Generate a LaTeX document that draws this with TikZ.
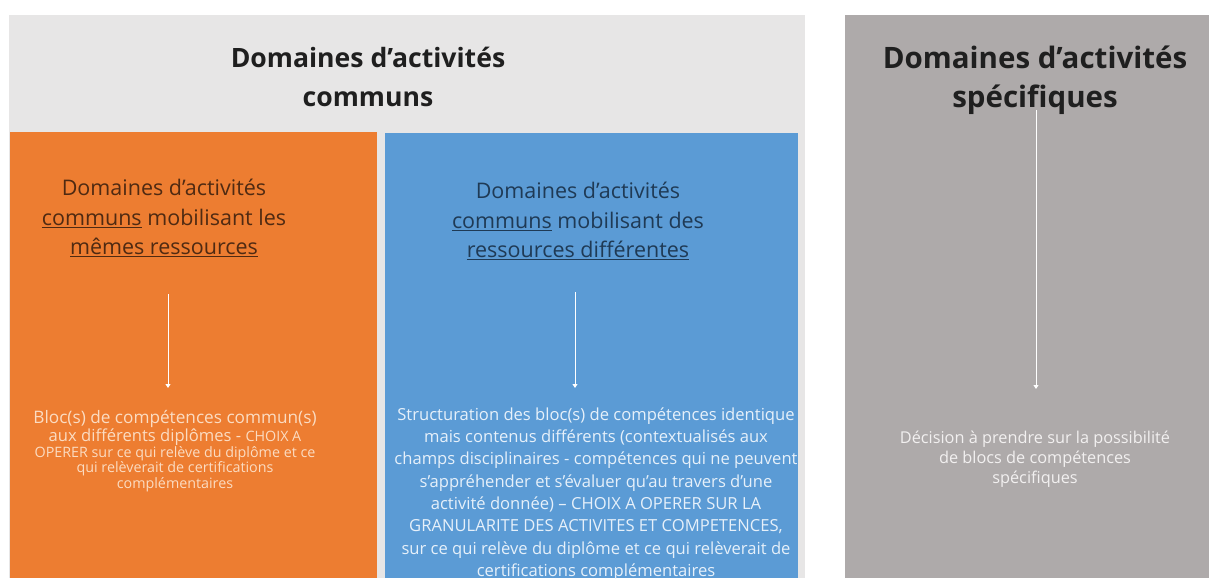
\documentclass[tikz,border=0pt]{standalone}
\usepackage{fontspec}
\setmainfont{Open Sans}
\usetikzlibrary{arrows.meta}
\definecolor{hdrgray}{HTML}{E7E6E6}
\definecolor{orangeC}{HTML}{ED7D31}
\definecolor{blueC}{HTML}{5B9BD5}
\definecolor{grayC}{HTML}{AEAAAA}
\definecolor{orangeTxt}{HTML}{4F2A12}
\definecolor{blueTxt}{HTML}{1F3A55}
\definecolor{orangeLight}{HTML}{FBDCC2}
\definecolor{blueLight}{HTML}{E6F0FA}
\definecolor{grayLight}{HTML}{F2F0F0}
\tikzset{
  title/.style={font=\bfseries, text=black!88, align=center, inner sep=0pt},
  head/.style={font=\fontsize{21.5}{29.5}\selectfont, align=center, inner sep=0pt},
  body/.style={align=center, inner sep=0pt},
  flow/.style={draw=white, line width=0.8pt, -{Triangle[width=5pt,length=4pt]}}
}
\begin{document}
\begin{tikzpicture}[x=1pt,y=-1pt]
\useasboundingbox (0,0) rectangle (1209,578);
% panels
\fill[hdrgray] (9,15) rectangle (805,578);
\fill[orangeC] (10,132) rectangle (377,578);
\fill[blueC] (385,133) rectangle (798,578);
\fill[grayC] (845,15) rectangle (1209,578);
% titles
\node[title, font=\fontsize{26.6}{39}\selectfont\bfseries] (tcom) at (368,77) {Domaines d’activités\\communs};
\node[title, font=\fontsize{29.5}{39}\selectfont\bfseries] (tspe) at (1035,80) {Domaines d’activités\\spécifiques};
% headings
\node[head, text=orangeTxt] (hor) at (164,218) {Domaines d’activités\\\underline{communs} mobilisant les\\\underline{mêmes ressources}};
\node[head, text=blueTxt] (hbl) at (578,221) {Domaines d’activités\\\underline{communs} mobilisant des\\\underline{ressources différentes}};
% bottom texts
\node[body, text=orangeLight] (bor) at (175,451) {%
  \fontsize{17.2}{18.5}\selectfont Bloc(s) de compétences commun(s)\\
  \fontsize{16.6}{18.5}\selectfont aux différents diplômes - {\fontsize{14.3}{18}\selectfont CHOIX A}\\
  \fontsize{14.3}{18}\selectfont OPERER sur ce qui relève du diplôme et ce\\
  \fontsize{14.3}{18}\selectfont qui relèverait de certifications\\
  \fontsize{14.3}{18}\selectfont complémentaires};
\node[body, text=blueLight, font=\fontsize{16.6}{22.3}\selectfont] (bbl) at (596,494) {%
  Structuration des bloc(s) de compétences identique\\
  mais contenus différents (contextualisés aux\\
  champs disciplinaires - compétences qui ne peuvent\\
  s’appréhender et s’évaluer qu’au travers d’une\\
  activité donnée) – CHOIX A OPERER SUR LA\\
  GRANULARITE DES ACTIVITES ET COMPETENCES,\\
  sur ce qui relève du diplôme et ce qui relèverait de\\
  certifications complémentaires};
\node[body, text=grayLight, font=\fontsize{16.3}{20}\selectfont] (bgr) at (1035,459) {%
  Décision à prendre sur la possibilité\\
  de blocs de compétences\\
  spécifiques};
% connectors
\coordinate (aos) at (168,294);
\coordinate (aoe) at (168,388);
\coordinate (abs) at (575,292);
\coordinate (abe) at (575,388);
\coordinate (ags) at (1036,110);
\coordinate (age) at (1036,389);
\draw[flow] (aos) -- (aoe);
\draw[flow] (abs) -- (abe);
\draw[flow] (ags) -- (age);
\end{tikzpicture}
\end{document}
